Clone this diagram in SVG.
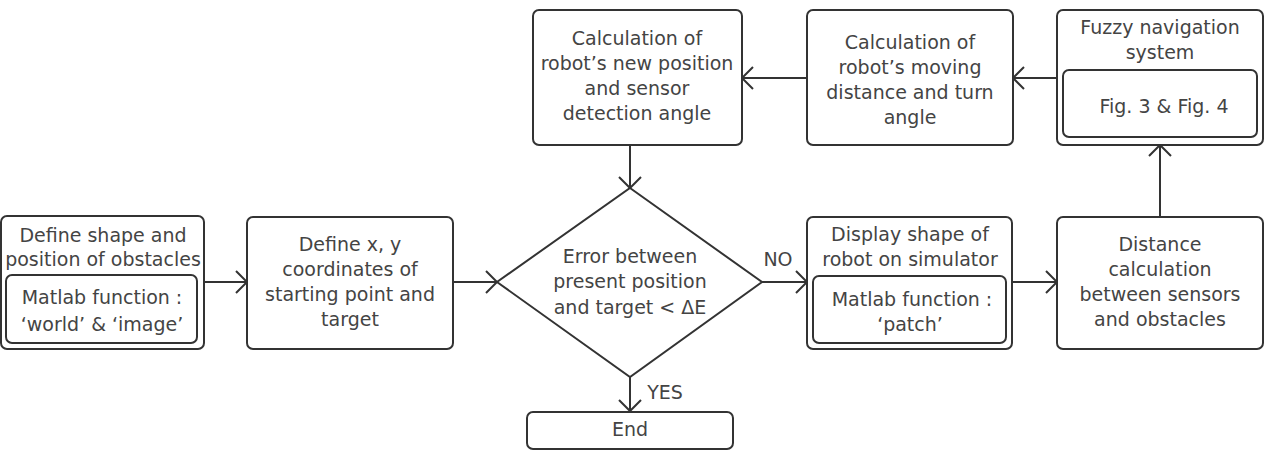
<svg xmlns="http://www.w3.org/2000/svg" width="1284" height="451" viewBox="0 0 1284 451">
<defs>
<style>
.b{fill:#fff;stroke:#333;stroke-width:2}
.t{font-family:"DejaVu Sans","Liberation Sans",sans-serif;font-size:19px;fill:#444;text-anchor:middle}
.c{stroke:#333;stroke-width:2;fill:none}
</style>
<marker id="a" markerWidth="16" markerHeight="26" refX="13" refY="13" orient="auto" markerUnits="userSpaceOnUse">
<path d="M2,2 L13,13 L2,24" fill="none" stroke="#333" stroke-width="2"/>
</marker>
</defs>
<rect width="1284" height="451" fill="#fff"/>
<g id="connectors">
<line class="c" x1="204" y1="282" x2="247" y2="282" marker-end="url(#a)"/>
<line class="c" x1="453" y1="282" x2="497" y2="282" marker-end="url(#a)"/>
<line class="c" x1="762" y1="282" x2="807" y2="282" marker-end="url(#a)"/>
<line class="c" x1="1012" y1="282" x2="1057" y2="282" marker-end="url(#a)"/>
<line class="c" x1="1160" y1="217" x2="1160" y2="145" marker-end="url(#a)"/>
<line class="c" x1="1057" y1="78" x2="1013" y2="78" marker-end="url(#a)"/>
<line class="c" x1="807" y1="78" x2="742" y2="78" marker-end="url(#a)"/>
<line class="c" x1="630" y1="145" x2="630" y2="188" marker-end="url(#a)"/>
<line class="c" x1="630" y1="377" x2="630" y2="411" marker-end="url(#a)"/>
<text class="t" x="778" y="266">NO</text>
<text class="t" x="665" y="399">YES</text>
</g>
<g id="n1">
<rect class="b" x="1" y="216" width="203" height="133" rx="6"/>
<text class="t" x="103" y="242">Define shape and</text>
<text class="t" x="103" y="266">position of obstacles</text>
<rect class="b" x="6" y="275" width="191" height="68" rx="6"/>
<text class="t" x="102" y="304">Matlab function :</text>
<text class="t" x="102" y="331">‘world’ &amp; ‘image’</text>
</g>
<g id="n2">
<rect class="b" x="247" y="217" width="206" height="132" rx="6"/>
<text class="t" x="350" y="251">Define x, y</text>
<text class="t" x="350" y="276">coordinates of</text>
<text class="t" x="350" y="301">starting point and</text>
<text class="t" x="350" y="326">target</text>
</g>
<g id="decision">
<polygon class="b" points="630,188 762,282 630,377 497,282"/>
<text class="t" x="630" y="263">Error between</text>
<text class="t" x="630" y="288">present position</text>
<text class="t" x="630" y="314">and target &lt; ΔE</text>
</g>
<g id="end">
<rect class="b" x="527" y="412" width="206" height="37" rx="6"/>
<text class="t" x="630" y="436">End</text>
</g>
<g id="n3">
<rect class="b" x="807" y="217" width="205" height="132" rx="6"/>
<text class="t" x="910" y="241">Display shape of</text>
<text class="t" x="910" y="266">robot on simulator</text>
<rect class="b" x="813" y="276" width="193" height="67" rx="6"/>
<text class="t" x="912" y="306">Matlab function :</text>
<text class="t" x="910" y="331">‘patch’</text>
</g>
<g id="n4">
<rect class="b" x="1057" y="217" width="206" height="132" rx="6"/>
<text class="t" x="1160" y="251">Distance</text>
<text class="t" x="1160" y="276">calculation</text>
<text class="t" x="1160" y="301">between sensors</text>
<text class="t" x="1160" y="326">and obstacles</text>
</g>
<g id="n5">
<rect class="b" x="1057" y="10" width="206" height="135" rx="6"/>
<text class="t" x="1160" y="34">Fuzzy navigation</text>
<text class="t" x="1160" y="59">system</text>
<rect class="b" x="1063" y="70" width="194" height="67" rx="6"/>
<text class="t" x="1164" y="113">Fig. 3 &amp; Fig. 4</text>
</g>
<g id="n6">
<rect class="b" x="807" y="10" width="206" height="135" rx="6"/>
<text class="t" x="910" y="49">Calculation of</text>
<text class="t" x="910" y="74">robot’s moving</text>
<text class="t" x="910" y="99">distance and turn</text>
<text class="t" x="910" y="124">angle</text>
</g>
<g id="n7">
<rect class="b" x="533" y="10" width="209" height="135" rx="6"/>
<text class="t" x="637" y="45">Calculation of</text>
<text class="t" x="637" y="70">robot’s new position</text>
<text class="t" x="637" y="95">and sensor</text>
<text class="t" x="637" y="120">detection angle</text>
</g>
</svg>
